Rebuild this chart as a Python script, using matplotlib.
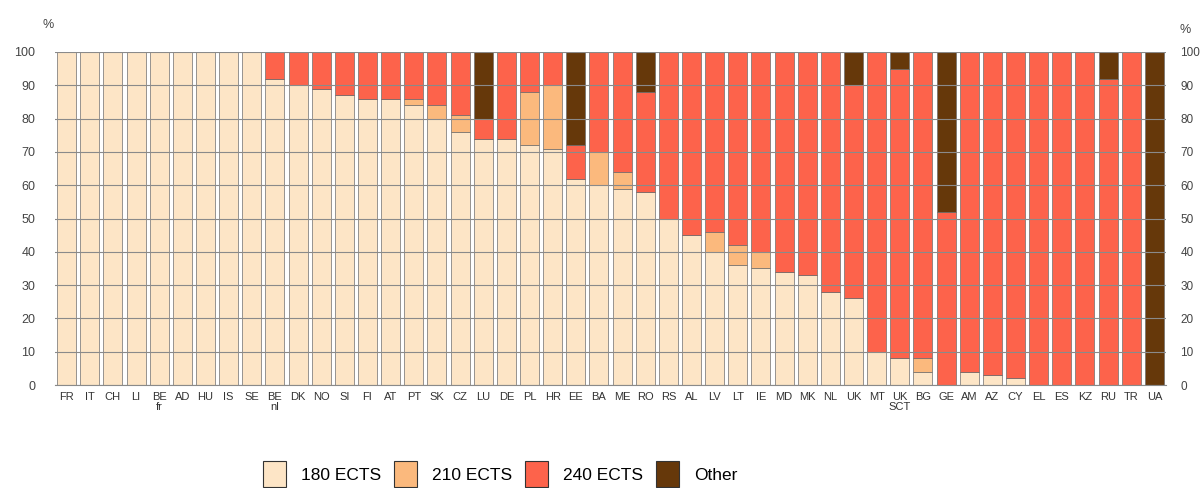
import numpy as np
import matplotlib
matplotlib.use("Agg")
import matplotlib.pyplot as plt
from matplotlib.transforms import ScaledTranslation

plt.rcParams['font.family'] = ['Liberation Sans', 'DejaVu Sans']

# country codes (not legible in the reference, best guess)
labels = ["FR", "IT", "CH", "LI", "BE\nfr", "AD", "HU", "IS", "SE", "BE\nnl",
          "DK", "NO", "SI", "FI", "AT", "PT", "SK", "CZ", "LU", "DE",
          "PL", "HR", "EE", "BA", "ME", "RO", "RS", "AL", "LV", "LT",
          "IE", "MD", "MK", "NL", "UK", "MT", "UK\nSCT", "BG", "GE", "AM",
          "AZ", "CY", "EL", "ES", "KZ", "RU", "TR", "UA"]

# shares in %
ects180 = [100, 100, 100, 100, 100, 100, 100, 100, 100, 92,
           90, 89, 87, 86, 86, 84, 80, 76, 74, 74,
           72, 71, 62, 60, 59, 58, 50, 45, 40, 36,
           35, 34, 33, 28, 26, 10, 8, 4, 0, 4,
           3, 2, 0, 0, 0, 0, 0, 0]
ects210 = [0, 0, 0, 0, 0, 0, 0, 0, 0, 0,
           0, 0, 0, 0, 0, 2, 4, 5, 0, 0,
           16, 19, 0, 10, 5, 0, 0, 0, 6, 6,
           5, 0, 0, 0, 0, 0, 0, 4, 0, 0,
           0, 0, 0, 0, 0, 0, 0, 0]
ects240 = [0, 0, 0, 0, 0, 0, 0, 0, 0, 8,
           10, 11, 13, 14, 14, 14, 16, 19, 6, 26,
           12, 10, 10, 30, 36, 30, 50, 55, 54, 58,
           60, 66, 67, 72, 64, 90, 87, 92, 52, 96,
           97, 98, 100, 100, 100, 92, 100, 0]
other = [0, 0, 0, 0, 0, 0, 0, 0, 0, 0,
         0, 0, 0, 0, 0, 0, 0, 0, 20, 0,
         0, 0, 28, 0, 0, 12, 0, 0, 0, 0,
         0, 0, 0, 0, 10, 0, 5, 0, 48, 0,
         0, 0, 0, 0, 0, 8, 0, 100]

series = ["180 ECTS", "210 ECTS", "240 ECTS", "Other"]
colors = ["#FDE5C6", "#FBB97D", "#FD634B", "#66380A"]

fig = plt.figure(figsize=(12.02, 4.88), dpi=100)
ax = fig.add_axes([55 / 1202, 1 - 385 / 488, (1166 - 55) / 1202, (385 - 52) / 488])

x = np.arange(len(labels))
bottom = np.zeros(len(labels))
for name, vals, col in zip(series, [ects180, ects210, ects240, other], colors):
    vals = np.array(vals, dtype=float)
    ax.bar(x, vals, bottom=bottom, width=0.82, color=col, edgecolor="#6e6e6e",
           linewidth=0.5, label=name, zorder=1)
    bottom += vals

ax.set_xlim(-0.5, len(labels) - 0.5)
ax.set_ylim(0, 100)
ax.set_yticks(np.arange(0, 101, 10))
# grid drawn over the bars
ax.yaxis.grid(True, color="#8a8a8a", linewidth=0.8, zorder=3)
ax.set_axisbelow(False)
ax.tick_params(axis="y", length=0, pad=14, labelsize=9, colors="#444444",
               labelright=True, right=False)
ax.set_xticks(x)
ax.set_xticklabels(labels, fontsize=8, color="#333333", linespacing=0.95)
ax.tick_params(axis="x", length=0, pad=5)
for s in ["left", "right", "top"]:
    ax.spines[s].set_visible(False)
ax.spines["bottom"].set_color("#8a8a8a")

# right-hand labels a bit smaller and closer so they fit the canvas
shift = ScaledTranslation(-5 / 100, 0, fig.dpi_scale_trans)
for t in ax.yaxis.get_major_ticks():
    t.label2.set_fontsize(8.5)
    t.label2.set_transform(t.label2.get_transform() + shift)

fig.text(48 / 1202, 1 - 25 / 488, "%", fontsize=9, color="#444444", ha="center", va="center")
fig.text(1185 / 1202, 1 - 30 / 488, "%", fontsize=9, color="#444444", ha="center", va="center")

leg = fig.legend(loc="center", bbox_to_anchor=(500 / 1202, 1 - 474 / 488), ncol=4,
                 frameon=False, fontsize=12.5,
                 handlelength=1.32, handleheight=1.9, borderpad=0,
                 handletextpad=0.86, columnspacing=0.75)
for h in leg.legend_handles:
    h.set_edgecolor("#333333")
    h.set_linewidth(0.8)

fig.savefig("out.png", dpi=100)
